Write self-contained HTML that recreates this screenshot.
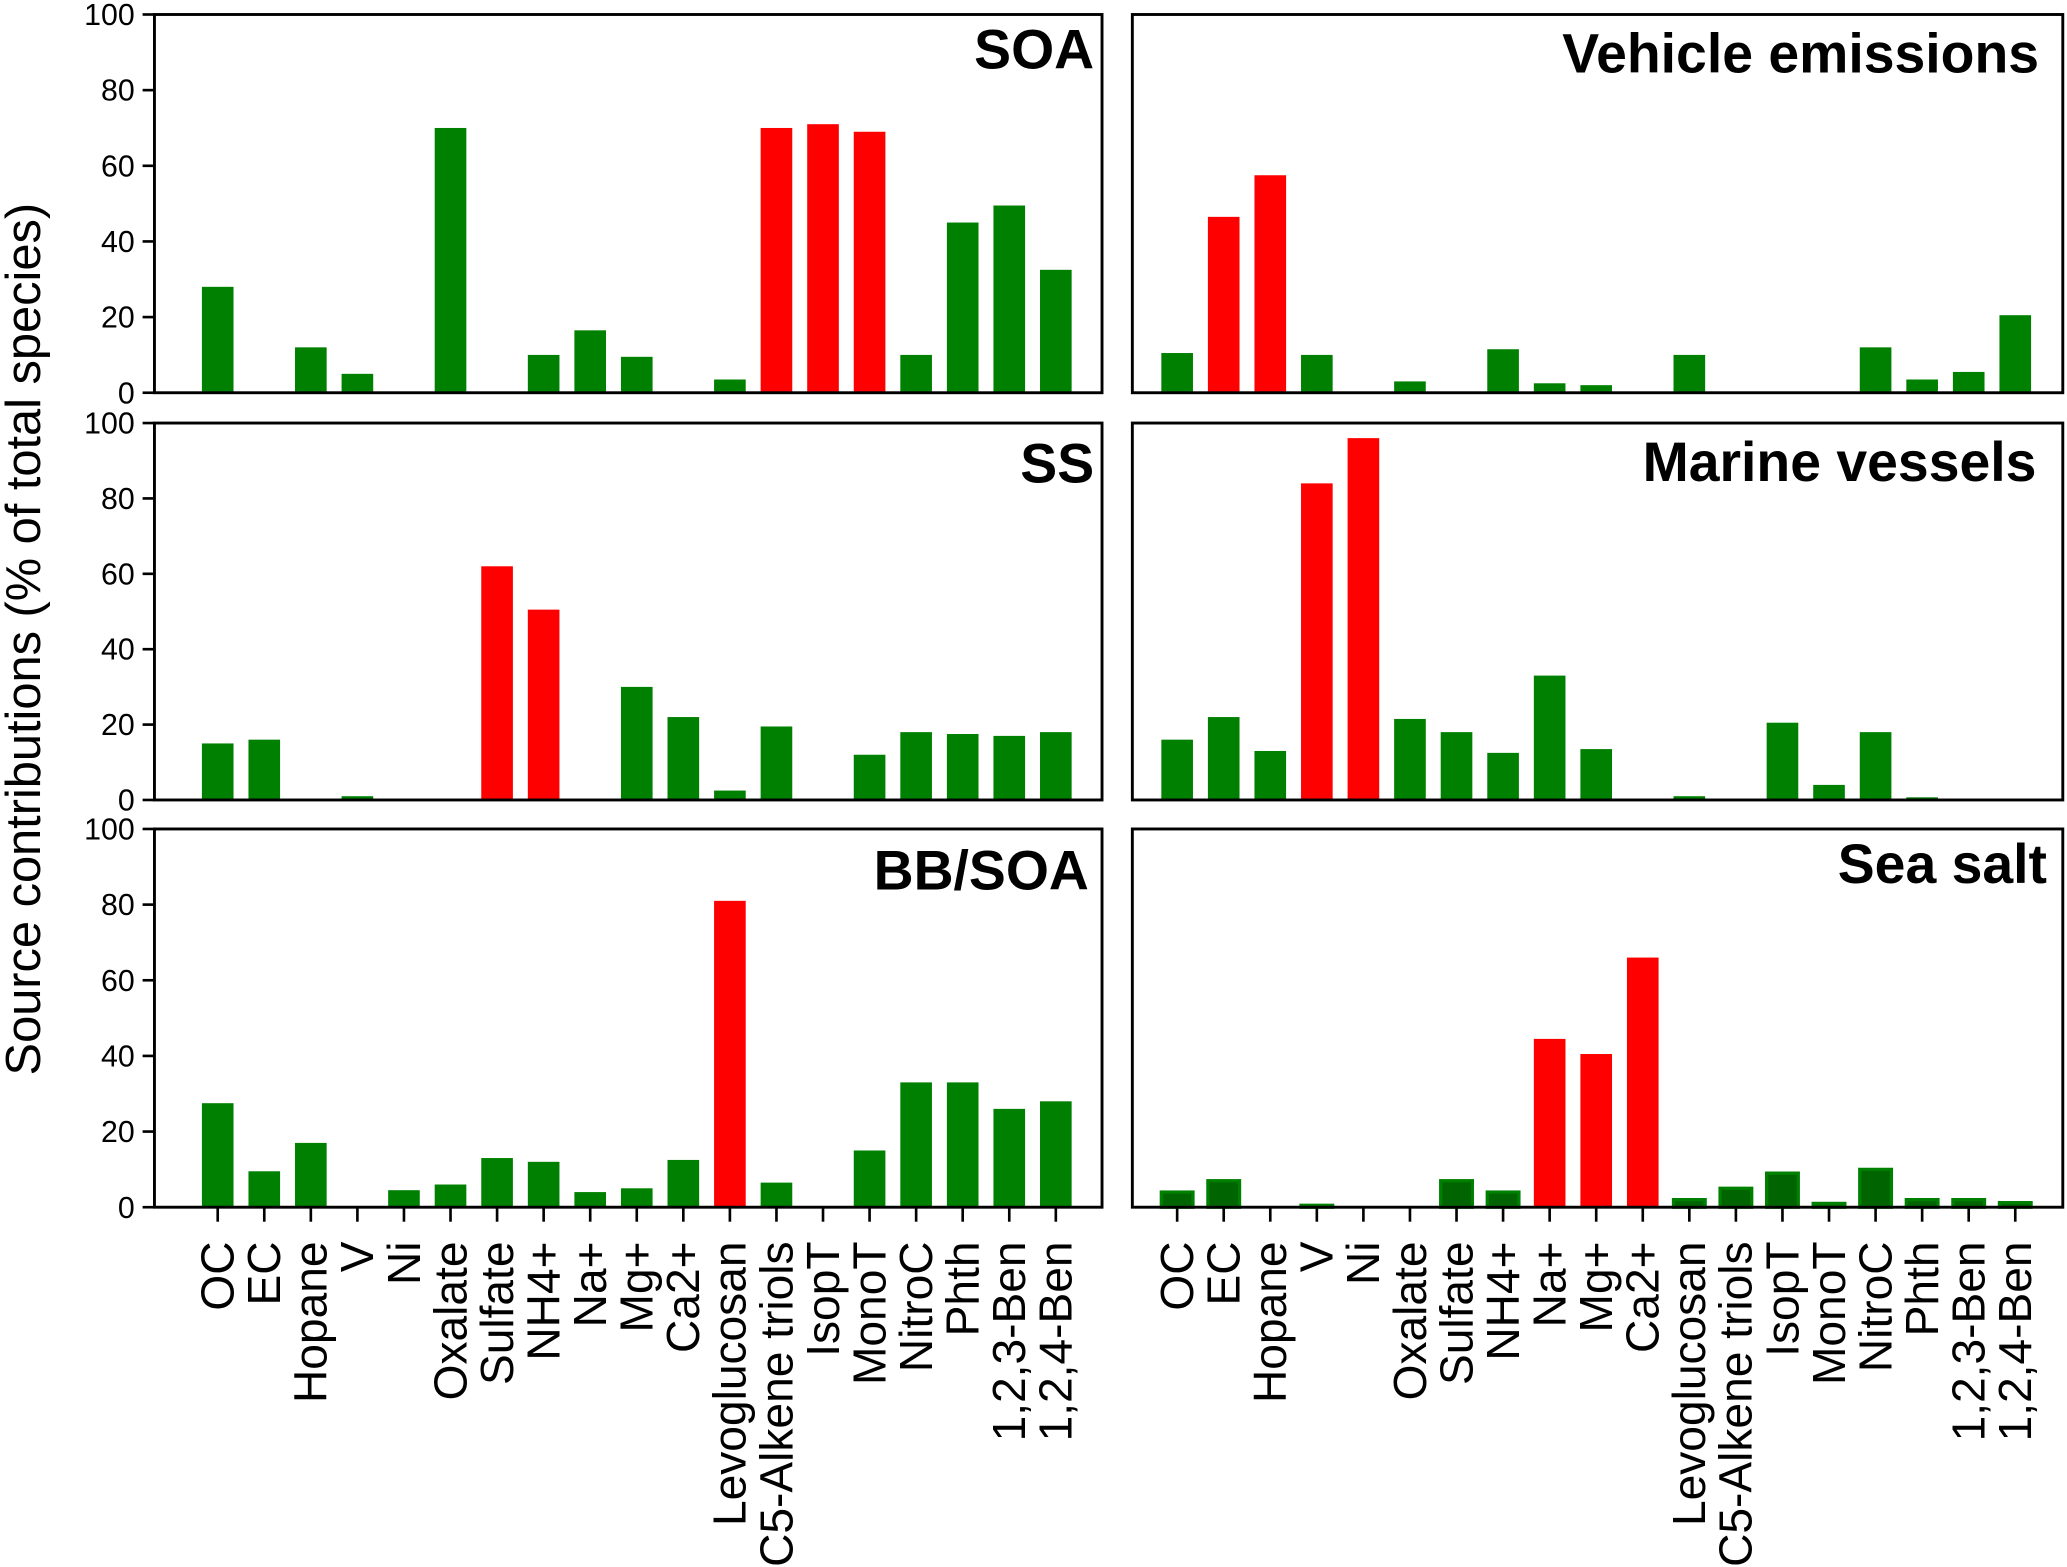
<!DOCTYPE html>
<html><head><meta charset="utf-8"><style>html,body{margin:0;padding:0;background:#fff}svg{display:block}text{font-family:"Liberation Sans",Arial,sans-serif}</style></head>
<body>
<svg id="chart" width="2067" height="1567" viewBox="0 0 1568 1189" xmlns="http://www.w3.org/2000/svg">
<text transform="translate(30,485) rotate(-90)" text-anchor="middle" font-size="37">Source contributions (% of total species)</text>
</svg>
<script>
const categories=["OC","EC","Hopane","V","Ni","Oxalate","Sulfate","NH4+","Na+","Mg+","Ca2+","Levoglucosan","C5-Alkene triols","IsopT","MonoT","NitroC","Phth","1,2,3-Ben","1,2,4-Ben"];
const yTicks=[0,20,40,60,80,100];
const soaValues=[28,0,12,5,0,70,0,10,16.5,9.5,0,3.5,70,71,69,10,45,49.5,32.5];
const soaRed=[12,13,14];
const vehicleValues=[10.5,46.5,57.5,10,0,3,0,11.5,2.5,2,0,10,0,0,0,12,3.5,5.5,20.5];
const vehicleRed=[1,2];
const ssValues=[15,16,0,1,0,0,62,50.5,0,30,22,2.5,19.5,0,12,18,17.5,17,18];
const ssRed=[6,7];
const marineValues=[16,22,13,84,96,21.5,18,12.5,33,13.5,0,1,0,20.5,4,18,0.7,0,0];
const marineRed=[3,4];
const bbValues=[27.5,9.5,17,0,4.5,6,13,12,4,5,12.5,81,6.5,0,15,33,33,26,28];
const bbRed=[11];
const seaSaltValues=[4,7,0,0.5,0,0,7,4,44.5,40.5,66,2,5,9,1,10,2,2,1.2];
const seaSaltRed=[8,9,10];

const NS="http://www.w3.org/2000/svg";
const svg=document.getElementById('chart');
function mk(tag,attrs,parent){const e=document.createElementNS(NS,tag);for(const k in attrs)e.setAttribute(k,attrs[k]);(parent||svg).appendChild(e);return e;}

const panels=[
 {name:"soa",title:"SOA",vals:soaValues,red:soaRed,x0:117,x1:836,top:11,bot:298,tx:830,ty:52,yaxis:true,xlab:false,outline:false},
 {name:"vehicle-emissions",title:"Vehicle emissions",vals:vehicleValues,red:vehicleRed,x0:859,x1:1565,top:11,bot:298,tx:1547,ty:55,yaxis:false,xlab:false,outline:false},
 {name:"ss",title:"SS",vals:ssValues,red:ssRed,x0:117,x1:836,top:321,bot:607,tx:830,ty:366,yaxis:true,xlab:false,outline:false},
 {name:"marine-vessels",title:"Marine vessels",vals:marineValues,red:marineRed,x0:859,x1:1565,top:321,bot:607,tx:1545,ty:365,yaxis:false,xlab:false,outline:false},
 {name:"bb-soa",title:"BB/SOA",vals:bbValues,red:bbRed,x0:117,x1:836,top:629,bot:916,tx:826,ty:675,yaxis:true,xlab:true,outline:false},
 {name:"sea-salt",title:"Sea salt",vals:seaSaltValues,red:seaSaltRed,x0:859,x1:1565,top:629,bot:916,tx:1553,ty:670,yaxis:false,xlab:true,outline:true}
];
const step=35.33, barW=24;
panels.forEach(p=>{
 const g=mk('g',{});
 
 
 const firstX=p.x0<500?165:893;
 const xs=i=>firstX+i*step;
 const ys=v=>p.bot-(v/100)*(p.bot-p.top);
 p.vals.forEach((v,i)=>{
  if(v<=0)return;
  const red=p.red.includes(i);
  const r=mk('rect',{x:xs(i)-barW/2,y:ys(v),width:barW,height:p.bot-ys(v),fill:red?'#ff0000':(p.outline?'#006400':'#008000')},g);
  if(p.outline&&!red){r.setAttribute('stroke','#008000');r.setAttribute('stroke-width','2.5');}
  
  
 });
 const box=mk('rect',{x:p.x0,y:p.top,width:p.x1-p.x0,height:p.bot-p.top,fill:'none',stroke:'#000','stroke-width':2.2},g);
 
 
 if(p.yaxis){
  yTicks.forEach(t=>{
   mk('line',{x1:p.x0-9,x2:p.x0,y1:ys(t),y2:ys(t),stroke:'#000','stroke-width':2},g);
   const tl=mk('text',{x:p.x0-15,y:ys(t)+8,'text-anchor':'end','font-size':23},g);
   tl.textContent=t;
   
   
  });
 }
 if(p.xlab){
  categories.forEach((c,i)=>{
   mk('line',{x1:xs(i),x2:xs(i),y1:p.bot,y2:p.bot+11,stroke:'#000','stroke-width':2},g);
   const tl=mk('text',{transform:`translate(${xs(i)+12},942) rotate(-90)`,'text-anchor':'end','font-size':35},g);
   tl.textContent=c;
   
   
  });
 }
 const tt=mk('text',{x:p.tx,y:p.ty,'text-anchor':'end','font-size':42,'font-weight':'bold'},g);
 tt.textContent=p.title;
 
 
});
</script>
</body></html>
